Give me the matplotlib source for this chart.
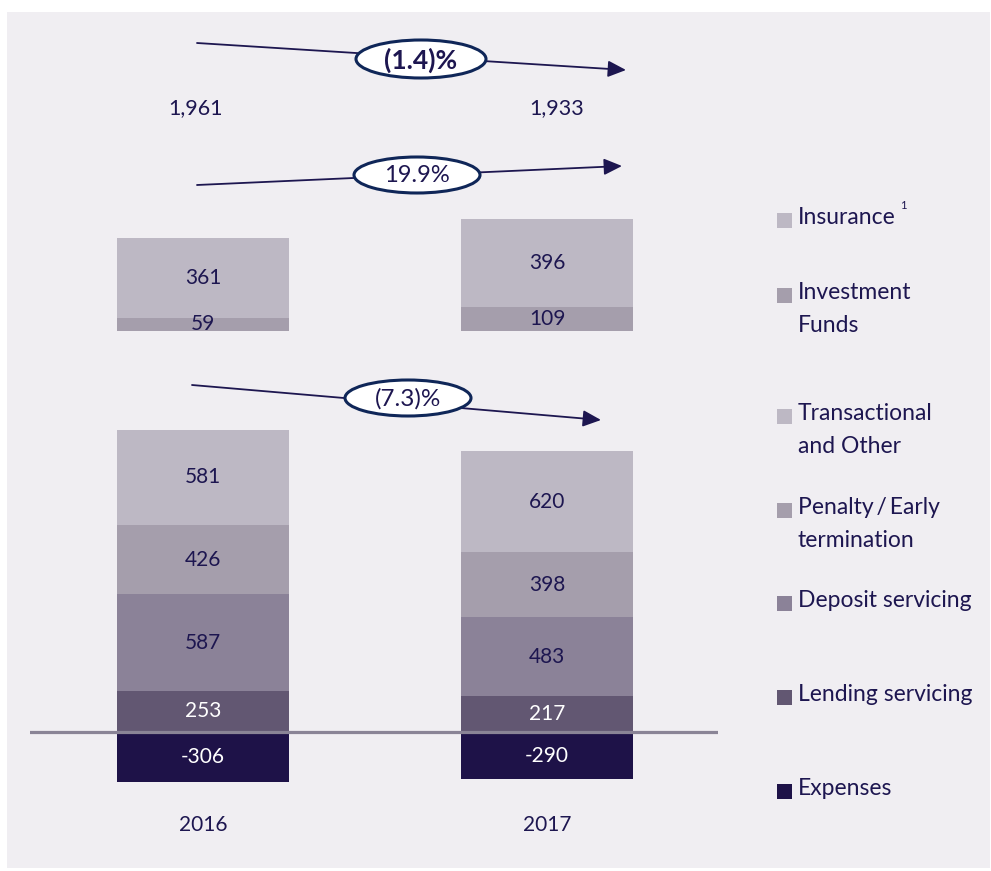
import matplotlib
matplotlib.use("Agg")
import matplotlib.pyplot as plt
from matplotlib.patches import Ellipse, Rectangle

# ---- data ----
years = ["2016", "2017"]

# core fee income (lower stack) and expenses
expenses = [-306, -290]
lending_servicing = [253, 217]
deposit_servicing = [587, 483]
penalty_early = [426, 398]
transactional_other = [581, 620]

# insurance & investment funds (upper stack)
investment_funds = [59, 109]
insurance = [361, 396]

growth_labels = ["(1.4)%", "19.9%", "(7.3)%"]

legend_labels = ["Insurance", "Investment\nFunds", "Transactional\nand Other",
                 "Penalty\u2009/\u2009Early\ntermination", "Deposit servicing",
                 "Lending servicing", "Expenses"]

# ---- style ----
W, H = 991, 871
FONT = ["Lato", "DejaVu Sans"]
plt.rcParams["font.family"] = FONT
NAVY = "#1d1650"
C_EXP = "#1e1248"
C_LEND = "#625772"
C_DEP = "#8b8298"
C_PEN = "#a59eac"
C_TRANS = "#bdb8c4"
C_INV = "#a59eac"
C_INS = "#bdb8c4"
BG = "#f0eef2"

fig = plt.figure(figsize=(W / 100, H / 100), dpi=100)
fig.patch.set_facecolor("white")
fig.add_artist(Rectangle((7 / W, 1 - 868 / H), (990 - 7) / W, (868 - 12) / H,
                         transform=fig.transFigure, facecolor=BG,
                         edgecolor="none", zorder=0))


def px_rect(x0, y0, x1, y1):
    return [x0 / W, 1 - y1 / H, (x1 - x0) / W, (y1 - y0) / H]


def clean(ax):
    ax.set_facecolor("none")
    for s in ax.spines.values():
        s.set_visible(False)
    ax.set_xticks([])
    ax.set_yticks([])


x = [0, 1]
bw = 0.5
fs_val = 15

# ---- lower stacked bars ----
ax = fig.add_axes(px_rect(30, 420, 718, 790))
clean(ax)
zero_px, scale = 732, 0.1637
ax.set_xlim(-0.503, 1.497)
ax.set_ylim(-(790 - zero_px) / scale, (zero_px - 420) / scale)

ax.bar(x, expenses, bw, color=C_EXP, zorder=2)
segments = [(lending_servicing, C_LEND, "white"),
            (deposit_servicing, C_DEP, NAVY),
            (penalty_early, C_PEN, NAVY),
            (transactional_other, C_TRANS, NAVY)]
bottoms = [0, 0]
for vals, col, tcol in segments:
    ax.bar(x, vals, bw, bottom=bottoms, color=col, zorder=2)
    for i, v in enumerate(vals):
        ax.text(x[i], bottoms[i] + v / 2, f"{v}", ha="center", va="center",
                color=tcol, fontsize=fs_val, zorder=4)
    bottoms = [b + v for b, v in zip(bottoms, vals)]
lower_pos = bottoms[:]
for i, v in enumerate(expenses):
    ax.text(x[i], v / 2, f"{v}", ha="center", va="center", color="white",
            fontsize=fs_val, zorder=4)
ax.axhline(0, color="#8a8496", lw=2.3, zorder=3)
for i, yr in enumerate(years):
    ax.text(x[i], -(825 - zero_px) / scale, yr, ha="center", va="center",
            color=NAVY, fontsize=fs_val, clip_on=False)

# ---- upper stacked bars ----
ax2 = fig.add_axes(px_rect(30, 200, 718, 340))
clean(ax2)
base_px, scale2 = 331, 0.221
ax2.set_xlim(-0.503, 1.497)
ax2.set_ylim(-(340 - base_px) / scale2, (base_px - 200) / scale2)
bottoms = [0, 0]
for vals, col in [(investment_funds, C_INV), (insurance, C_INS)]:
    ax2.bar(x, vals, bw, bottom=bottoms, color=col, zorder=2)
    for i, v in enumerate(vals):
        ax2.text(x[i], bottoms[i] + v / 2, f"{v}", ha="center", va="center",
                 color=NAVY, fontsize=fs_val, zorder=4, clip_on=False)
    bottoms = [b + v for b, v in zip(bottoms, vals)]
upper_tot = bottoms[:]

totals = [lower_pos[i] + upper_tot[i] + expenses[i] for i in range(2)]

# ---- overlay: totals, trend arrows, legend ----
ov = fig.add_axes([0, 0, 1, 1])
ov.set_xlim(0, W)
ov.set_ylim(H, 0)
ov.axis("off")
ov.set_facecolor("none")

for cx, t in zip([196, 557], totals):
    ov.text(cx, 108, f"{t:,}", ha="center", va="center", color=NAVY,
            fontsize=15.5)

arrows = [((197, 43), (626, 70), (421, 59), 130, 38, "bold", 19),
          ((197, 185), (622, 166), (417, 175), 126, 36, "normal", 17),
          ((192, 385), (601, 420), (408, 398), 126, 36, "normal", 17.5)]
for (p0, p1, c, ew, eh, wt, fs), lab in zip(arrows, growth_labels):
    ov.annotate("", xy=p1, xytext=p0,
                arrowprops=dict(arrowstyle="-|>,head_length=1.1,head_width=0.5",
                                color=NAVY, lw=1.3, shrinkA=0, shrinkB=0))
    ov.add_patch(Ellipse(c, ew, eh, facecolor="white", edgecolor="#0f2658",
                         lw=2.2, zorder=5))
    ov.text(c[0], c[1] + 1, lab, ha="center", va="center", color=NAVY,
            fontsize=fs, fontweight=wt, zorder=6)

leg_colors = [C_INS, C_INV, C_TRANS, C_PEN, C_DEP, C_LEND, C_EXP]
leg_y = [220, 295, 416, 510, 603, 697, 791]
first_txt = None
for lab, col, yy in zip(legend_labels, leg_colors, leg_y):
    ov.add_patch(Rectangle((777, yy - 7.5), 15, 15, facecolor=col,
                           edgecolor="none"))
    for k, ln in enumerate(lab.split("\n")):
        t = ov.text(798, yy - 3 + k * 33, ln, ha="left", va="center",
                    color=NAVY, fontsize=16.5)
        if first_txt is None:
            first_txt = t

# footnote marker right after the first legend entry
fig.canvas.draw()
bb = first_txt.get_window_extent(fig.canvas.get_renderer())
x_end = ov.transData.inverted().transform((bb.x1, bb.y1))[0]
ov.text(x_end + 4, 205, "1", ha="left", va="center", color=NAVY, fontsize=8)

fig.savefig("out.png", dpi=100, facecolor=fig.get_facecolor())
